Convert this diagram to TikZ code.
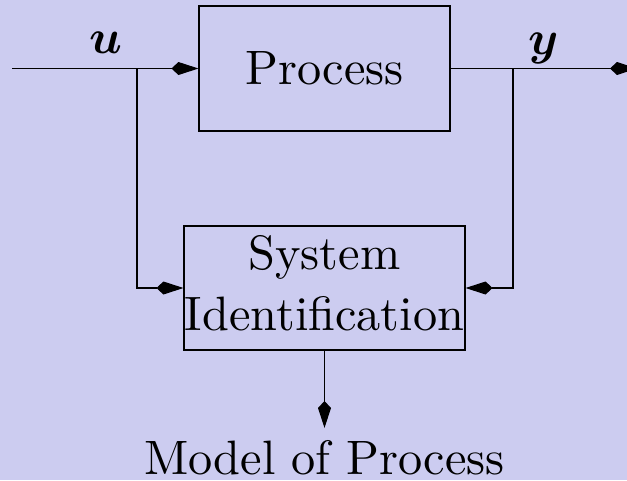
\documentclass[tikz,border=0pt]{standalone}
\usepackage{graphicx}
\usepackage{amsmath,bm}
\usetikzlibrary{arrows.meta}
\definecolor{bgcol}{RGB}{204,204,240}
\newcommand{\BigTxt}[1]{\scalebox{4.83}{#1}}
\begin{document}
\begin{tikzpicture}[x=1pt,y=-1pt,
  every node/.style={font=\fontsize{10}{12}\selectfont},
  blk/.style={draw,line width=1.1pt,inner sep=0pt},
  conn/.style={line width=1.1pt,-{Kite[length=27pt,width=13pt,inset=7pt]}}]
\fill[bgcol] (0,0) rectangle (627,480);
\useasboundingbox (0,0) rectangle (627,480);
\node[blk,minimum width=251pt,minimum height=125pt] (proc) at (324.5,68.5) {\BigTxt{Process}};
\node[blk,minimum width=281pt,minimum height=124pt] (sid) at (324.5,288)
  {\BigTxt{\renewcommand{\arraystretch}{1.04}\begin{tabular}{@{}c@{}}System\\Identification\end{tabular}}};
\coordinate (start) at (12,68.5);
\coordinate (ubr) at (137,68.5);
\coordinate (ybr) at (513,68.5);
\coordinate (yend) at (637,68.5);
\node[anchor=north,inner sep=12pt] (model) at (324.5,428) {\BigTxt{Model of Process}};
\node[anchor=base,inner sep=0pt] (ulab) at (106,53) {\BigTxt{$\bm{u}$}};
\node[anchor=base,inner sep=0pt] (ylab) at (544,54) {\BigTxt{$\bm{y}$}};
\draw[conn] (start) -- (proc.west);
\draw[conn] (proc.east) -- (yend);
\draw[conn] (ubr) |- (sid.west);
\draw[conn] (ybr) |- (sid.east);
\draw[conn] (sid.south) -- (model.north);
\end{tikzpicture}
\end{document}
